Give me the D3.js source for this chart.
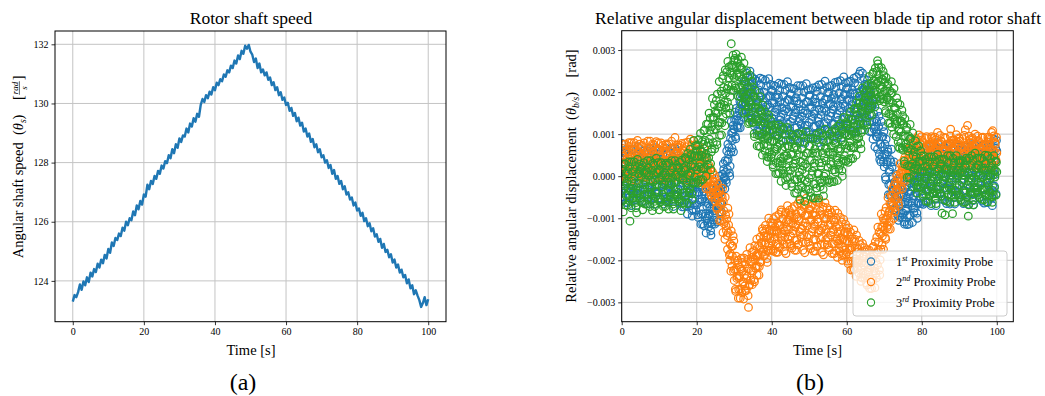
<!DOCTYPE html>
<html>
<head>
<meta charset="utf-8">
<script src="https://cdn.jsdelivr.net/npm/d3@7"></script>
<style>
  body { margin: 0; background: #fff; }
  svg text { font-family: "Liberation Serif", "Times New Roman", serif !important; fill: #000; }
</style>
</head>
<body>
<svg id="fig" width="1045" height="396"></svg>
<script>
// ---- data ----

// (a) rotor shaft speed [rad/s], one sample every 0.5 s from t = 0 to 100 s
const speedStep = 0.5;
const shaftSpeed = [
  123.30,123.52,123.45,123.62,123.88,123.70,123.98,123.85,124.12,123.96,124.28,124.15,124.40,124.30,124.58,124.45,124.72,124.60,124.88,124.76,
  125.08,124.95,125.30,125.18,125.45,125.38,125.60,125.52,125.80,125.70,126.00,125.88,126.12,126.05,126.35,126.22,126.55,126.42,126.70,126.58,
  126.92,126.85,127.25,127.10,127.38,127.28,127.55,127.45,127.72,127.62,127.90,127.80,128.05,127.98,128.25,128.15,128.45,128.32,128.62,128.50,
  128.82,128.70,128.92,128.88,129.15,129.02,129.32,129.22,129.50,129.38,129.65,129.55,129.95,130.15,130.05,130.28,130.18,130.40,130.30,130.55,
  130.45,130.70,130.62,130.82,130.75,130.98,130.90,131.12,131.05,131.28,131.20,131.45,131.35,131.62,131.50,131.78,131.68,131.95,131.85,131.98,
  131.75,
  131.65,131.40,131.52,131.20,131.35,131.05,131.15,130.95,131.05,130.80,130.88,130.62,130.72,130.45,130.55,130.28,130.38,130.12,130.20,129.95,
  130.02,129.75,129.85,129.58,129.68,129.40,129.52,129.25,129.35,129.05,129.15,128.88,128.98,128.70,128.80,128.52,128.62,128.35,128.45,128.18,
  128.25,128.00,128.08,127.82,127.92,127.62,127.75,127.45,127.55,127.28,127.38,127.10,127.20,126.92,127.00,126.75,126.82,126.55,126.65,126.38,
  126.45,126.20,126.30,126.02,126.12,125.85,125.95,125.68,125.78,125.50,125.58,125.32,125.42,125.12,125.25,124.98,125.05,124.80,124.90,124.62,
  124.72,124.45,124.55,124.28,124.38,124.12,124.20,123.92,124.05,123.75,123.85,123.55,123.68,123.50,123.35,123.12,123.25,123.45,123.18,123.38
];

// (b) relative angular displacement, in units of 1e-5 rad.
// Two interleaved sweeps per probe, each one sample every 0.2 s (sweep b shifted by 0.1 s).
const probeStep = 0.2;
const sweepShift = 0.1;
const probeUnit = 1e-5;

const probe1a = [
  78,42,-56,14,-7, 56,-35,7,-63,28, -49,21,-14,63,-28, 35,-42,0,49,-70, 7,70,-28,28,-42,
  -18,45,-60,10,-3, 60,-30,12,-66,25, -45,18,-10,66,-32, 38,-46,4,52,-67, 3,68,-25,32,-39,
  -24,40,-52,17,-10, 52,-38,5,-60,30, -52,24,-17,60,-25, 32,-40,-3,46,-72, 10,66,-31,25,-45,
  -30,29,-62,3,-17, 37,-47,-8,-73,11, -70,-5,-38,33,-51, 4,-70,-33,11,-95, -36,20,-68,-18,-80,
  -68,-14,-98,-38,-56, -12,-90,-54,-114,-36, -118,-60,-89,-26,-100, -65,-120,-90,-55,-140, -77,-30,-104,-62,-114,
  -82,-32,-109,-54,-70, 0,-65,-35,-85,-20, -20,16,-2,37,-9, 60,16,40,68,0, 90,130,67,103,58,
  112,152,89,134,120, 191,132,160,115,173, 154,199,176,226,167, 225,170,200,235,150, 187,250,152,208,138,
  154,217,119,189,168, 226,135,177,107,198, 121,190,155,231,141, 200,123,165,214,95, 170,232,136,191,122,
  139,202,104,174,153, 214,124,166,97,187, 106,177,141,219,127, 190,113,155,204,85, 160,225,124,182,109,
  130,194,94,165,144, 208,115,158,87,179, 101,172,137,215,123, 186,107,150,200,78, 156,220,121,177,106,
  128,192,92,163,142, 210,118,155,90,176, 102,174,138,217,123, 189,110,154,204,82, 162,226,127,183,112,
  136,200,100,171,150, 216,124,166,95,187, 111,182,147,225,133, 198,120,163,213,92, 172,236,137,194,123,
  147,210,112,182,161, 226,135,177,107,198, 126,195,160,236,146, 215,138,180,250,110, 186,245,154,206,141,
  162,216,132,192,174, 208,130,166,106,184, 88,148,118,184,106, 130,64,100,142,40, 76,130,46,94,34,
  22,76,-8,52,34, 58,-20,16,-44,34, -62,-2,-32,34,-44, -19,-82,-48,-7,-105, -60,-10,-87,-43,-98,
  -88,-41,-114,-62,-78, -21,-92,-60,-114,-43, -93,-35,-64,-1,-76, -10,-76,-40,2,-100, -21,35,-52,-2,-65,
  -35,24,-67,-2,-21, 65,-32,12,-62,35, -47,27,-10,72,-25, 42,-40,5,57,-70, 12,80,-25,35,-40,
  -17,50,-55,20,-2, 70,-28,15,-65,30, -43,24,-6,76,-30, 46,-37,8,60,-66, 8,77,-22,38,-44,
  -20,46,-58,16,2, 62,-34,10,-60,38, -50,30,-12,68,-27, 40,-42,2,55,-68, 14,74,-28,32,-38,
  -15,53,-52,24,-5, 72,-30,18,-64,33, -45,20,-8,70,-22, 44,-36,6,62,-70, 10,88,-24,36,-42,
  60
];
const probe1b = [
  14,-49,56,-14,28, -63,0,35,-35,63, 49,-21,-70,7,-42, -7,63,21,-56,-28, -42,28,0,56,42,
  18,-45,52,-10,24, -60,4,38,-31,60, 45,-25,-66,11,-38, -3,59,25,-52,-24, -38,32,-4,52,46,
  10,-53,59,-18,31, -66,-3,31,-38,66, 52,-17,-62,3,-46, -11,66,17,-60,-32, -45,24,3,60,38,
  3,-55,42,-23,16, -73,-15,18,-48,44, 20,-45,-90,-18,-64, -39,24,-14,-82,-58, -80,-18,-42,8,-5,
  -38,-92,-2,-62,-26, -114,-60,-30,-90,-6, -37,-95,-135,-72,-112, -95,-45,-75,-130,-110, -114,-61,-82,-40,-51,
  -54,-104,-21,-76,-43, -85,-40,-15,-65,5, 30,-5,-30,9,-16, 36,76,52,8,24, 58,103,85,121,112,
  134,94,161,116,143, 115,155,178,133,196, 217,172,140,190,158, 195,245,215,160,180, 138,208,180,236,222,
  189,126,231,161,203, 107,170,205,135,233, 217,148,100,176,128, 158,228,186,109,137, 122,191,164,218,205,
  174,111,216,146,188, 97,159,194,125,221, 205,134,85,163,113, 148,218,176,99,127, 109,182,153,211,196,
  165,101,208,137,179, 87,151,187,116,215, 201,130,80,158,108, 143,215,172,92,121, 106,177,149,206,192,
  163,99,206,135,177, 90,148,184,119,212, 202,130,80,159,109, 146,218,175,96,125, 112,183,155,212,198,
  171,107,214,143,185, 95,159,194,124,223, 211,140,90,168,118, 156,227,184,106,135, 123,194,166,222,208,
  182,119,224,154,196, 107,170,205,135,233, 222,153,105,181,133, 173,243,201,124,152, 141,206,180,232,219,
  192,138,228,168,204, 106,160,190,130,214, 172,112,70,136,94, 94,154,118,52,76, 34,94,70,118,106,
  52,-2,88,28,64, -44,10,40,-20,64, 22,-38,-80,-14,-56, -53,4,-30,-94,-71, -98,-43,-65,-21,-32,
  -62,-109,-30,-83,-52, -115,-65,-38,-93,-16, -12,-70,-110,-47,-87, -46,14,-22,-88,-64, -65,-2,-27,23,10,
  -2,-60,37,-28,11, -62,5,42,-32,72, 57,-18,-70,12,-40, -2,72,28,-55,-25, -40,35,5,65,50,
  20,-48,65,-10,35, -58,9,38,-28,75, 53,-14,-66,16,-44, 2,68,32,-51,-21, -36,39,1,69,46,
  24,-44,61,-6,31, -65,2,45,-35,69, 60,-21,-67,9,-37, -5,75,25,-58,-28, -43,32,8,62,53,
  17,-51,68,-13,38, -59,8,39,-29,74, 54,-15,-63,15,-43, 1,70,31,-52,-22, -37,36,4,66,85
];

const probe2a = [
  23,66,0,47,33, 76,14,42,-5,57, 4,52,28,80,19, 61,9,38,71,-10, 42,85,19,57,9,
  26,70,3,50,30, 79,17,45,-2,60, 7,55,25,83,16, 64,12,35,74,-7, 45,82,22,60,12,
  20,63,-3,44,36, 73,11,39,-8,54, 1,49,31,77,22, 58,6,41,68,-4, 39,92,16,54,6,
  28,68,2,49,35, 78,16,44,-3,59, 6,54,30,81,21, 63,11,40,73,-8, 44,84,21,59,11,
  18,61,-5,42,28, 61,2,30,-15,43, -18,22,2,46,-6, 11,-30,-8,19,-45, -24,10,-42,-12,-50,
  -59,-25,-78,-40,-51, -33,-89,-63,-106,-50, -134,-82,-108,-50,-118, -102,-174,-135,-90,-200, -184,-130,-214,-166,-226,
  -248,-201,-274,-222,-238, -200,-269,-237,-290,-221, -277,-226,-251,-195,-261, -209,-272,-238,-198,-312, -220,-170,-247,-203,-258,
  -225,-177,-251,-198,-214, -150,-215,-185,-235,-170, -204,-158,-181,-130,-190, -135,-186,-158,-126,-205, -143,-100,-166,-128,-176,
  -154,-111,-178,-130,-145, -96,-161,-131,-181,-116, -169,-117,-143,-85,-153, -102,-162,-130,-91,-184, -121,-70,-150,-104,-161,
  -142,-89,-171,-112,-130, -72,-152,-115,-176,-97, -163,-101,-132,-64,-145, -87,-157,-118,-74,-182, -111,-52,-144,-92,-157,
  -139,-79,-172,-105,-125, -67,-150,-113,-178,-93, -167,-102,-134,-63,-147, -92,-162,-124,-79,-187, -119,-63,-151,-101,-163,
  -146,-92,-176,-116,-134, -87,-161,-127,-184,-109, -177,-121,-149,-88,-160, -120,-179,-146,-109,-200, -150,-103,-176,-134,-187,
  -181,-134,-208,-155,-171, -133,-202,-170,-223,-155, -222,-171,-197,-140,-207, -173,-230,-199,-163,-250, -206,-160,-231,-191,-242,
  -233,-186,-259,-207,-223, -176,-245,-213,-267,-197, -248,-190,-219,-156,-231, -145,-211,-175,-133,-235, -137,-90,-163,-121,-174,
  -127,-84,-150,-103,-117, -51,-108,-82,-126,-68, -88,-47,-67,-22,-75, -14,-55,-32,-6,-70, -4,30,-22,8,-30,
  5,38,-13,23,12, 65,18,40,4,50, 22,61,41,84,33, 78,36,59,86,20, 63,98,43,75,36,
  47,82,28,67,55, 90,40,63,24,75, 32,71,51,94,43, 79,36,59,86,22, 63,104,43,75,36,
  48,84,26,67,57, 92,41,62,25,76, 31,72,51,96,44, 78,35,60,85,21, 64,99,42,76,37,
  45,83,28,68,55, 89,39,63,110,74, 32,121,50,95,43, 80,37,58,87,23, 63,100,44,74,35,
  47,82,27,66,56, 91,40,64,24,77, 33,70,52,93,45, 77,36,59,104,22, 62,96,43,75,38,
  55
];
const probe2b = [
  47,4,76,28,57, -5,38,61,14,80, 71,23,-10,42,9, 33,80,52,0,19, 9,57,38,76,66,
  50,7,73,31,54, -2,41,58,17,83, 68,26,-7,45,12, 36,77,55,3,22, 12,60,35,79,63,
  44,1,79,25,60, -8,35,64,11,77, 74,20,-4,39,6, 30,83,49,-3,16, 6,54,41,73,69,
  49,6,74,30,55, -3,40,60,16,79, 70,24,-9,43,10, 34,88,53,1,18, 10,56,39,75,65,
  42,-1,71,23,52, -15,25,47,2,66, 38,-2,-30,14,-14, -11,26,4,-38,-23, -50,-12,-28,3,-5,
  -40,-74,-17,-55,-32, -106,-68,-46,-89,-29, -61,-113,-150,-92,-129, -141,-76,-116,-187,-161, -226,-166,-190,-142,-154,
  -222,-269,-190,-243,-211, -290,-242,-216,-269,-195, -205,-256,-292,-235,-272, -243,-186,-220,-284,-261, -258,-203,-225,-181,-192,
  -198,-246,-165,-219,-187, -235,-190,-165,-215,-145, -204,-158,-125,-176,-144, -163,-117,-145,-196,-177, -176,-129,-148,-110,-119,
  -130,-174,-101,-150,-121, -181,-136,-111,-161,-91, -169,-117,-80,-138,-101, -124,-178,-145,-86,-108, -161,-104,-127,-81,-92,
  -112,-165,-77,-136,-100, -176,-121,-91,-152,-66, -163,-106,-58,-126,-83, -125,-176,-140,-68,-93, -157,-92,-118,-65,-79,
  -105,-165,-72,-132,-92, -178,-119,-87,-152,-61, -167,-109,-57,-128,-83, -130,-181,-144,-73,-98, -163,-101,-126,-75,-88,
  -116,-170,-80,-140,-104, -184,-132,-104,-161,-81, -100,-154,-193,-132,-171, -152,-98,-130,-189,-168, -187,-134,-155,-114,-124,
  -155,-202,-123,-176,-144, -223,-175,-149,-202,-128, -150,-202,-238,-181,-217, -204,-153,-184,-240,-219, -242,-191,-211,-170,-180,
  -207,-254,-175,-228,-196, -267,-218,-192,-245,-170, -167,-225,-265,-202,-242, -181,-121,-157,-223,-199, -174,-121,-142,-100,-111,
  -103,-146,-75,-122,-94, -126,-86,-64,-108,-46, -30,-71,-100,-55,-84, -36,1,-21,-63,-48, -30,8,-8,23,15,
  23,-9,45,9,30, 4,36,54,18,68, 76,37,10,53,26, 67,32,90,51,75, 24,59,79,40,94,
  86,47,20,63,36, 55,94,71,28,43, 36,75,59,90,82, 70,29,93,48,72, 27,62,76,43,97,
  83,50,23,60,39, 58,91,74,25,46, 33,78,56,112,85, 64,35,87,54,78, 21,56,82,37,91,
  89,44,17,66,33, 52,97,68,31,40, 39,72,62,87,79, 68,33,91,50,73, 26,61,77,42,95,
  85,49,21,62,37, 57,93,70,27,44, 35,76,58,89,81, 66,31,89,52,108, 25,58,80,39,93
];

const probe3a = [
  -35,17,-85,-6,-23, 29,-46,-12,-69,6, -58,-107,-29,34,-40, 11,-52,-17,23,-75, -87,40,-40,6,-52,
  -32,20,-60,-80,-20, 32,-43,-9,-66,9, -55,3,-26,37,-43, 14,-82,-14,26,-72, -9,43,-37,9,-55,
  -80,14,-61,-3,-26, 26,-49,-15,-72,3, -61,-3,-32,31,-37, 8,-55,-20,20,-78, -15,37,-43,3,-49,
  -38,19,-60,-4,-82, 38,-40,-4,-64,14, -46,16,-15,54,-28, 39,-30,8,51,-55, 29,85,-2,48,-15,
  15,74,-17,48,29, 102,18,57,-8,76, 20,85,52,124,39, 124,44,88,138,15, 118,185,80,140,65,
  112,180,75,150,128, 225,128,172,98,195, 141,211,176,253,162, 248,176,215,260,150, 246,315,216,264,204,
  235,280,210,260,245, 278,211,242,190,257, 169,231,200,269,188, 225,152,192,238,125, 177,240,142,198,128,
  128,190,94,163,142, 182,98,137,72,156, 69,131,100,169,88, 127,60,97,140,35, 89,145,58,108,45,
  52,110,21,84,65, 115,32,70,6,90, 8,76,42,117,29, 84,6,49,99,-22, 49,116,12,72,-2,
  14,82,-25,52,29, 94,-8,39,-40,63, -31,51,10,100,-6, 65,-27,24,82,-60, 29,106,-14,55,-31,
  -5,72,-48,38,12, 89,-19,31,-52,56, -28,54,7,103,-9, 71,-16,32,86,-47, 44,112,6,66,-10,
  21,86,-15,57,35, 106,15,57,-13,78, 10,78,44,119,31, 99,26,66,112,0, 82,140,49,101,36,
  66,124,33,98,79, 152,68,107,42,126, 70,134,102,174,89, 162,91,130,175,65, 154,210,123,173,110,
  151,204,122,181,163, 237,167,199,145,216, 180,228,204,257,194, 249,275,226,258,180, 216,258,193,230,184,
  177,224,151,203,187, 219,148,181,126,197, 117,175,146,209,135, 162,94,131,174,70, 112,170,79,131,66,
  62,123,29,96,76, 116,25,67,-3,88, -5,63,29,103,16, 58,-14,25,70,-40, 17,72,-13,35,-26,
  -18,36,-48,12,-6, 40,-36,0,-59,17, -47,11,-18,46,-30, 23,-42,-6,34,-65, 0,52,-30,17,-42,
  -24,29,-88,5,-12, 40,-92,0,-59,17, -44,14,-21,49,-33, 20,-89,-3,31,-62, 3,49,-27,14,-45,
  -21,32,-56,8,-9, 37,-39,3,-62,20, -50,8,-95,43,-27, 26,-45,-9,37,-68, -3,55,-33,20,-39,
  -27,26,-50,2,-15, 43,-33,-3,-56,14, -44,14,-15,49,-33, 20,-39,-3,31,-62, 3,49,-27,14,-45,
  10
];
const probe3b = [
  -6,-58,29,-29,6, -69,-17,11,-46,34, 23,-35,-75,-12,-52, -23,34,0,-63,-40, -52,6,-17,29,17,
  -3,-62,26,-32,9, -66,-14,14,-43,37, 20,-38,-72,-9,-55, -26,31,3,-60,-37, -49,9,-20,32,14,
  -9,-55,32,-26,3, -72,-20,8,-49,31, 26,-32,-78,-15,-49, -20,37,-3,-66,-43, -55,3,-14,26,20,
  -2,-54,33,-25,10, -64,-10,20,-40,44, 41,-21,-65,4,-40, 1,64,26,-42,-17, -15,48,22,72,60,
  48,-10,87,22,61, -8,50,82,18,108, 110,45,0,72,26, 80,150,109,30,58, 65,140,110,170,155,
  150,82,195,120,165, 97,165,202,127,232, 239,169,120,197,148, 208,273,234,163,189, 204,264,240,288,276,
  260,215,290,240,270, 190,236,262,211,283, 256,194,150,219,175, 185,251,211,138,165, 128,198,170,226,212,
  163,101,204,135,177, 72,130,162,97,189, 156,94,50,119,75, 90,152,115,47,72, 45,108,83,133,120,
  84,27,122,59,97, 6,64,96,32,122, 104,36,-12,63,15, 42,113,70,-8,21, -2,72,42,101,86,
  52,-17,98,21,67, -40,31,71,-8,102, 84,2,-55,35,-22, 15,99,49,-43,-10, -31,55,21,89,72,
  38,-39,89,3,55, -52,23,65,-18,98, 87,5,-52,32,-25, 24,102,55,-31,0, -10,66,36,97,82,
  57,-8,101,28,72, -13,50,85,15,113, 106,38,-10,65,17, 59,125,86,13,40, 36,101,75,127,114,
  98,40,137,72,111, 42,100,133,68,159, 161,96,50,122,76, 124,190,150,78,104, 110,173,148,198,185,
  181,128,216,157,193, 145,194,221,167,243, 247,199,165,218,184, 221,267,240,189,208, 184,230,212,249,239,
  203,156,235,182,214, 126,175,203,148,225, 198,140,100,163,123, 125,186,149,82,107, 66,131,105,157,144,
  96,35,137,69,110, -3,60,95,25,123, 90,22,-25,49,2, 19,84,45,-27,-1, -26,35,11,60,48,
  12,-42,48,-12,24, -59,-6,23,-36,46, 34,-24,-65,-1,-42, -12,46,11,-53,-30, -42,17,-6,40,29,
  5,-47,40,-18,17, -56,-3,20,-33,49, 31,-27,-62,2,-45, -9,43,14,-50,-33, -45,14,-3,37,32,
  8,-50,37,-15,14, -62,-9,26,-39,43, 37,-21,-68,-4,-39, -15,49,8,-56,-27, -39,20,-9,43,26,
  2,-44,43,-21,20, -55,-2,19,-32,50, 30,-28,-61,3,-46, -8,42,15,-49,-34, -46,13,-2,36,33
];

const probeSweeps = [[probe1a, probe1b], [probe2a, probe2b], [probe3a, probe3b]];
const probeOrdinals = [["1", "st"], ["2", "nd"], ["3", "rd"]];
const probeColors = ["#1f77b4", "#ff7f0e", "#2ca02c"];

const timeTicks = [0, 20, 40, 60, 80, 100];
const speedTicks = [124, 126, 128, 130, 132];
const dispTicks = [-0.003, -0.002, -0.001, 0, 0.001, 0.002, 0.003];

// ---- drawing ----
const svg = d3.select("#fig");
const gridColor = "#c4c4c4";
const serif = "Liberation Serif, Times New Roman, serif";

function panel(box, xDomain, yDomain, xTicks, yTicks, yFormat) {
  const x = d3.scaleLinear().domain(xDomain).range([box.left, box.right]);
  const y = d3.scaleLinear().domain(yDomain).range([box.bottom, box.top]);
  const g = svg.append("g");

  const grid = g.append("g");
  grid.selectAll(".gx").data(xTicks).join("line")
    .attr("x1", d => x(d)).attr("x2", d => x(d))
    .attr("y1", box.top).attr("y2", box.bottom)
    .attr("stroke", gridColor).attr("stroke-width", 1);
  grid.selectAll(".gy").data(yTicks).join("line")
    .attr("y1", d => y(d)).attr("y2", d => y(d))
    .attr("x1", box.left).attr("x2", box.right)
    .attr("stroke", gridColor).attr("stroke-width", 1);

  const marks = g.append("g");

  const ax = g.append("g").attr("transform", `translate(0,${box.bottom})`)
    .call(d3.axisBottom(x).tickValues(xTicks).tickSize(3.5).tickPadding(3));
  const ay = g.append("g").attr("transform", `translate(${box.left},0)`)
    .call(d3.axisLeft(y).tickValues(yTicks).tickFormat(yFormat).tickSize(3.5).tickPadding(3));
  [ax, ay].forEach(a => {
    a.attr("font-family", serif);
    a.select(".domain").remove();
    a.selectAll("line").attr("stroke", "#000").attr("stroke-width", 0.8);
    a.selectAll("text").attr("font-size", 10).attr("font-family", serif);
  });

  g.append("rect")
    .attr("x", box.left).attr("y", box.top)
    .attr("width", box.right - box.left).attr("height", box.bottom - box.top)
    .attr("fill", "none").attr("stroke", "#000").attr("stroke-width", 1);

  return { x, y, g, marks };
}

function title(cx, text) {
  svg.append("text").attr("x", cx).attr("y", 24).attr("text-anchor", "middle")
    .attr("font-size", 17.5).text(text);
}

function xLabel(cx, text) {
  svg.append("text").attr("x", cx).attr("y", 355).attr("text-anchor", "middle")
    .attr("font-size", 14.5).text(text);
}

// rotated axis label; build() writes into a group and returns its length
function yLabel(cx, cy, build) {
  const outer = svg.append("g").attr("transform", `translate(${cx},${cy}) rotate(-90)`);
  const inner = outer.append("g");
  const w = build(inner);
  inner.attr("transform", `translate(${-w / 2},0)`);
}

// ---------- (a) ----------
const A = panel({ left: 55, right: 446, top: 31, bottom: 321.7 },
  [-5, 105], [122.62, 132.45], timeTicks, speedTicks, d3.format("d"));

A.marks.append("path")
  .datum(shaftSpeed)
  .attr("d", d3.line().x((d, i) => A.x(i * speedStep)).y(d => A.y(d)))
  .attr("fill", "none").attr("stroke", "#1f77b4").attr("stroke-width", 2.4)
  .attr("stroke-linejoin", "round");

title(251, "Rotor shaft speed");
xLabel(251, "Time [s]");

yLabel(23, 167, g => {
  const t = g.append("text").attr("font-size", 14.5).attr("x", 0).attr("y", 0);
  t.append("tspan").text("Angular shaft speed\u2002(");
  t.append("tspan").attr("font-style", "italic").text("θ");
  t.append("tspan").attr("font-style", "italic").attr("font-size", 9.5).attr("dy", 3).text("s");
  t.append("tspan").attr("dy", -3).text(")\u2002\u2002[");
  const L = t.node().getComputedTextLength();
  const num = g.append("text").attr("font-size", 9).attr("font-style", "italic")
    .attr("x", L + 1).attr("y", -5.5).text("rad");
  const wn = num.node().getComputedTextLength();
  g.append("line").attr("x1", L + 0.5).attr("x2", L + wn + 1.5)
    .attr("y1", -3.6).attr("y2", -3.6).attr("stroke", "#000").attr("stroke-width", 0.6);
  g.append("text").attr("font-size", 9).attr("font-style", "italic")
    .attr("x", L + 1 + wn / 2).attr("y", 4).attr("text-anchor", "middle").text("s");
  g.append("text").attr("font-size", 14.5).attr("x", L + wn + 2.5).attr("y", 0).text("]");
  return L + wn + 7;
});

svg.append("text").attr("x", 243).attr("y", 390).attr("text-anchor", "middle")
  .attr("font-size", 24).text("(a)");

// ---------- (b) ----------
const B = panel({ left: 621.7, right: 1013.3, top: 30.7, bottom: 321.7 },
  [0, 104.4], [-0.00346, 0.00346], timeTicks, dispTicks, d3.format(".3f"));

svg.append("defs").append("clipPath").attr("id", "clipB")
  .append("rect").attr("x", 621.7).attr("y", 30.7).attr("width", 1013.3 - 621.7).attr("height", 291);

probeSweeps.forEach((sweeps, k) => {
  const layer = B.marks.append("g").attr("clip-path", "url(#clipB)");
  sweeps.forEach((vals, s) => {
    layer.append("g").selectAll("circle").data(vals).join("circle")
      .attr("cx", (d, i) => B.x(i * probeStep + s * sweepShift))
      .attr("cy", d => B.y(d * probeUnit))
      .attr("r", 3.8)
      .attr("fill", "none").attr("stroke", probeColors[k]).attr("stroke-width", 1.25);
  });
});

title(818, "Relative angular displacement between blade tip and rotor shaft");
xLabel(817.5, "Time [s]");

yLabel(576, 176, g => {
  const t = g.append("text").attr("font-size", 14.5).attr("x", 0).attr("y", 0);
  t.append("tspan").text("Relative angular displacement\u2002(");
  t.append("tspan").attr("font-style", "italic").text("θ");
  t.append("tspan").attr("font-style", "italic").attr("font-size", 9.5).attr("dy", 3).text("b/s");
  t.append("tspan").attr("dy", -3).text(")\u2002\u2002[rad]");
  return t.node().getComputedTextLength();
});

// legend, lower right
const lg = B.g.append("g");
const lgBox = { left: 853, top: 251, width: 154, height: 65 };
lg.append("rect")
  .attr("x", lgBox.left).attr("y", lgBox.top).attr("width", lgBox.width).attr("height", lgBox.height)
  .attr("rx", 3).attr("fill", "#fff").attr("fill-opacity", 0.8)
  .attr("stroke", "#cccccc").attr("stroke-width", 1);
probeOrdinals.forEach((o, k) => {
  const yy = lgBox.top + 10.5 + k * 20.5;
  lg.append("circle").attr("cx", lgBox.left + 18).attr("cy", yy).attr("r", 3.6)
    .attr("fill", "none").attr("stroke", probeColors[k]).attr("stroke-width", 1.1);
  const t = lg.append("text").attr("x", lgBox.left + 43).attr("y", yy + 4.3).attr("font-size", 12.5);
  t.append("tspan").text(o[0]);
  t.append("tspan").attr("font-size", 8).attr("font-style", "italic").attr("dy", -5).text(o[1]);
  t.append("tspan").attr("dy", 5).text(" Proximity Probe");
});

svg.append("text").attr("x", 810).attr("y", 390).attr("text-anchor", "middle")
  .attr("font-size", 24).text("(b)");
</script>
</body>
</html>
